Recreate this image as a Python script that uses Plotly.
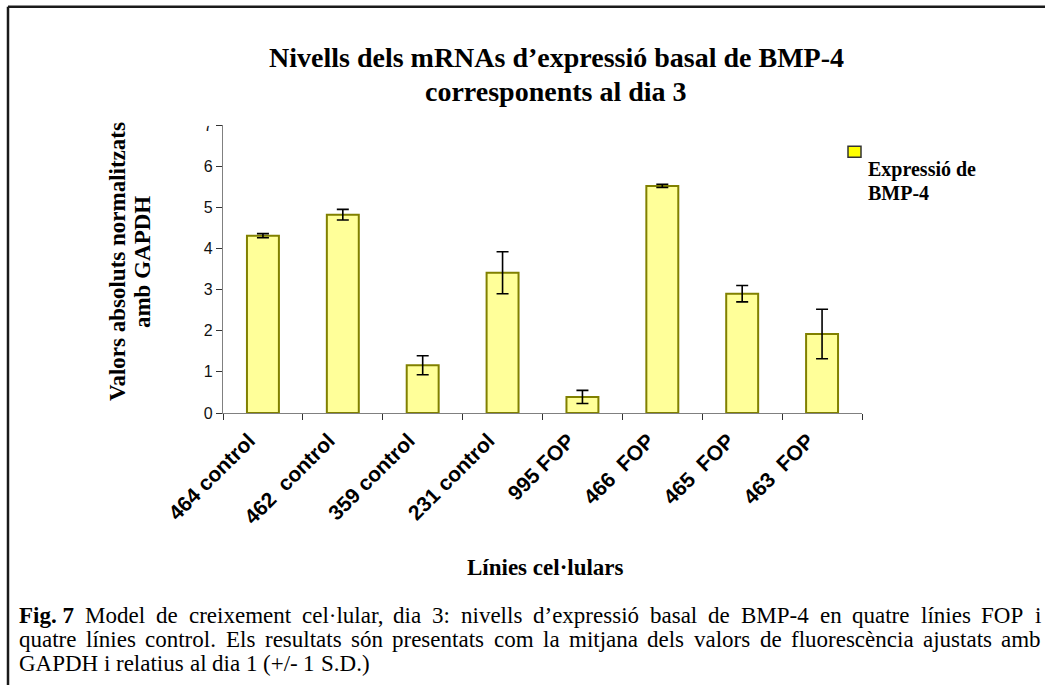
import plotly.graph_objects as go

# Cell lines and BMP-4 basal expression (day 3), normalised to GAPDH
lines = ["464 control", "462\u00a0 control", "359 control", "231 control",
         "995 FOP", "466\u00a0 FOP", "465\u00a0 FOP", "463\u00a0 FOP"]
expression = [4.31, 4.82, 1.16, 3.41, 0.39, 5.52, 2.90, 1.92]
std_dev = [0.05, 0.13, 0.23, 0.51, 0.16, 0.04, 0.20, 0.60]
y_ticks = [0, 1, 2, 3, 4, 5, 6, 7]

caption_lines = [
    ["<b>Fig. 7</b>", "Model", "de", "creixement", "cel·lular,", "dia", "3:", "nivells",
     "d\u2019expressió", "basal", "de", "BMP-4", "en", "quatre", "línies", "FOP", "i"],
    ["quatre", "línies", "control.", "Els", "resultats", "són", "presentats", "com", "la",
     "mitjana", "dels", "valors", "de", "fluorescència", "ajustats", "amb"],
    ["GAPDH", "i", "relatius", "al", "dia", "1", "(+/-", "1", "S.D.)"],
]

W, H = 1045, 686
L, R, T, B = 223, 862, 124.6, 413.3   # plot area in pixels


def px(x, y):
    """Pixel position -> paper coordinates."""
    return (x - L) / (R - L), (B - y) / (B - T)


fig = go.Figure()
fig.add_trace(go.Bar(
    x=lines, y=expression, width=0.4,
    marker=dict(color="#FFFF99", line=dict(color="#808000", width=2)),
    error_y=dict(type="data", array=std_dev, visible=True,
                 color="black", thickness=1.6, width=6),
    showlegend=False,
))

serif = "Liberation Serif, Times New Roman, serif"
sans = "Liberation Sans, Arial, sans-serif"

annotations = []


def text(x, y, s, size, bold=True, xanchor="center", angle=0, family=serif):
    xp, yp = px(x, y)
    annotations.append(dict(
        x=xp, y=yp, xref="paper", yref="paper", text=f"<b>{s}</b>" if bold else s,
        showarrow=False, xanchor=xanchor, yanchor="middle", textangle=angle,
        font=dict(family=family, size=size, color="black"),
    ))


text(556, 57, "Nivells dels mRNAs d\u2019expressió basal de BMP-4", 28)
text(556, 91, "corresponents al dia 3", 28)
text(117, 262, "Valors absoluts normalitzats", 23, angle=-90)
text(142, 262, "amb GAPDH", 23, angle=-90)
text(545, 568, "Línies cel·lulars", 23)
text(866, 169, "Expressió de", 20, xanchor="left")
text(866, 193, "BMP-4", 20, xanchor="left")

# --- justified caption, laid out word by word with Times-compatible metrics ---
REG = dict(zip(" ()+,-./0123456789:", [250, 333, 333, 564, 250, 333, 250, 278] + [500] * 10 + [278]))
REG.update(dict(zip("ABCDEFGHIJKLMNOPQRSTUVWXYZ",
                    [722, 667, 667, 722, 611, 556, 722, 722, 333, 389, 722, 611, 889,
                     722, 722, 556, 722, 667, 556, 611, 722, 722, 944, 722, 722, 611])))
REG.update(dict(zip("abcdefghijklmnopqrstuvwxyz",
                    [444, 500, 444, 500, 444, 333, 500, 500, 278, 278, 500, 278, 778,
                     500, 500, 500, 500, 333, 389, 278, 500, 500, 722, 500, 500, 444])))
REG.update({"í": 278, "ó": 500, "è": 444, "\u2019": 333, "·": 250})
BOLD = {"F": 611, "i": 278, "g": 500, ".": 250, " ": 250, "7": 500}


def word_width(w, size):
    if w.startswith("<b>"):
        core = w[3:-4]
        return sum(BOLD.get(c, 500) for c in core) * size / 1000
    return sum(REG.get(c, 500) for c in w) * size / 1000


CAP_SIZE = 23
CAP_LEFT, CAP_RIGHT = 17, 1039
cap_y = [616, 640, 664]
for i, words in enumerate(caption_lines):
    widths = [word_width(w, CAP_SIZE) for w in words]
    if i < len(caption_lines) - 1:
        gap = (CAP_RIGHT - CAP_LEFT - sum(widths)) / (len(words) - 1)
    else:
        gap = REG[" "] * CAP_SIZE / 1000
    x = CAP_LEFT
    for w, wd in zip(words, widths):
        text(x, cap_y[i], w, CAP_SIZE, bold=False, xanchor="left")
        x += wd + gap

shapes = []
# legend swatch
x0, y0 = px(848, 146)
x1, y1 = px(861, 157)
shapes.append(dict(type="rect", xref="paper", yref="paper", x0=x0, y0=y0, x1=x1, y1=y1,
                   fillcolor="#FFFF00", line=dict(color="#333333", width=1.5)))
# the top of the axis clips its highest tick label
x0, y0 = px(190, 100)
x1, y1 = px(216, 125.5)
shapes.append(dict(type="rect", xref="paper", yref="paper", x0=x0, y0=y0, x1=x1, y1=y1,
                   fillcolor="white", line=dict(width=0), layer="above"))
# frame around the chart
for (ax, ay, bx, by) in [(8, 6, 1045, 6), (8, 6, 8, 686)]:
    a = px(ax, ay)
    b = px(bx, by)
    shapes.append(dict(type="line", xref="paper", yref="paper", x0=a[0], y0=a[1], x1=b[0], y1=b[1],
                       line=dict(color="#1a1a1a", width=2.5)))

fig.update_layout(
    width=W, height=H,
    margin=dict(l=L, r=W - R, t=T, b=H - B, pad=0),
    plot_bgcolor="white", paper_bgcolor="white",
    bargap=0.6,
    annotations=annotations, shapes=shapes,
    xaxis=dict(
        type="category", range=[-0.5, 7.5], tickangle=-45,
        showline=True, linecolor="#808080", linewidth=1.2,
        ticks="outside", ticklen=6, tickcolor="#333333", tickson="boundaries",
        tickfont=dict(family=sans, size=21, color="black"),
        ticklabelshift=-14, ticklabelstandoff=6,
        tickprefix="<b>", ticksuffix="</b>",
        showgrid=False, zeroline=False,
    ),
    yaxis=dict(
        range=[0, 7], tickvals=y_ticks,
        showline=True, linecolor="#808080", linewidth=1.2,
        ticks="outside", ticklen=6, tickcolor="#333333",
        tickfont=dict(family=sans, size=16, color="#111111"),
        showgrid=False, zeroline=False,
    ),
)

fig.write_html("out.html")
